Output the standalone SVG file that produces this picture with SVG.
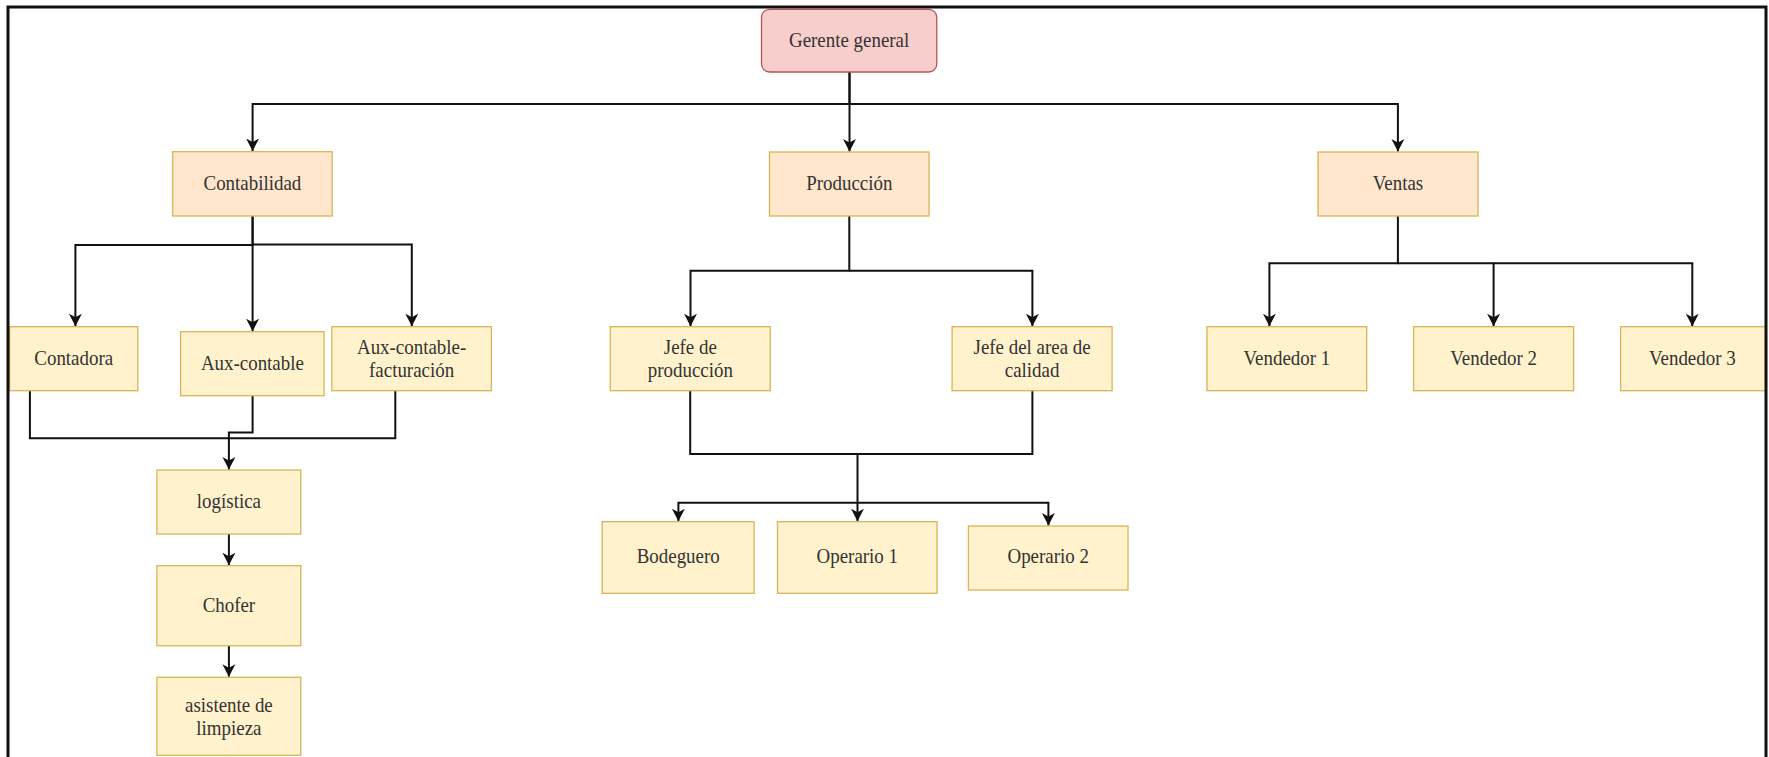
<svg xmlns="http://www.w3.org/2000/svg" width="1769" height="757" viewBox="0 0 1769 757">
<style>
.bg{fill:#ffffff}
.frame{fill:none;stroke:#111111;stroke-width:3}
.top{fill:#f8cecc;stroke:#b85450;stroke-width:1.3}
.dept{fill:#ffe6cc;stroke:#d6b656;stroke-width:1.3}
.box{fill:#fff2cc;stroke:#d6b656;stroke-width:1.3}
.t{font-family:"Liberation Serif","Times New Roman",serif;font-size:21.5px;fill:#333333;text-anchor:middle}
.c{fill:none;stroke:#111111;stroke-width:2}
.ca{fill:none;stroke:#111111;stroke-width:2;marker-end:url(#arr)}
</style>
<defs>
<marker id="arr" markerUnits="userSpaceOnUse" markerWidth="14" markerHeight="14" viewBox="0 0 14 14" refX="12.5" refY="7" orient="auto">
<path d="M0,0.5 L12.5,7 L0,13.5 L3.5,7 Z" fill="#111111"/>
</marker>
</defs>
<rect class="bg" x="0" y="0" width="1769" height="757"/>

<g id="connectors">
<path class="ca" d="M849.5,72 V104 H252.6 V151"/>
<path class="ca" d="M849.5,72 V151.5"/>
<path class="ca" d="M849.5,104 H1397.9 V151.5"/>
<path class="ca" d="M252.6,216 V245 H75.4 V326.2"/>
<path class="ca" d="M252.6,216 V331.2"/>
<path class="ca" d="M252.6,244.5 H411.8 V326.2"/>
<path class="c" d="M29.9,390.7 V438.3 H395.3 V390.7"/>
<path class="ca" d="M252.6,395.7 V432.5 H228.9 V469.5"/>
<path class="ca" d="M228.9,534 V565.2"/>
<path class="ca" d="M228.9,645.7 V676.8"/>
<path class="ca" d="M849.3,216 V270.7 H690.5 V326.2"/>
<path class="ca" d="M849.3,270.7 H1032.4 V326.2"/>
<path class="c" d="M690.2,390.7 V454 H1032.4 V390.7"/>
<path class="ca" d="M857.5,454 V521.2"/>
<path class="ca" d="M857.5,502.7 H678.4 V521.2"/>
<path class="ca" d="M857.5,502.7 H1048.4 V525.5"/>
<path class="ca" d="M1397.9,216 V263.3 H1269.4 V326.2"/>
<path class="ca" d="M1397.9,263.3 H1493.6 V326.2"/>
<path class="ca" d="M1493.6,263.3 H1692.3 V326.2"/>
</g>

<g id="gerente">
<rect class="top" x="761.5" y="9.3" width="175.3" height="62.7" rx="8"/>
<text class="t" transform="translate(849.1,46.7) scale(0.88,1)">Gerente general</text>
</g>
<g id="contabilidad">
<rect class="dept" x="172.6" y="151.7" width="159.6" height="64.3"/>
<text class="t" transform="translate(252.4,189.8) scale(0.88,1)">Contabilidad</text>
</g>
<g id="produccion">
<rect class="dept" x="769.5" y="152" width="159.6" height="64"/>
<text class="t" transform="translate(849.3,190) scale(0.88,1)">Producción</text>
</g>
<g id="ventas">
<rect class="dept" x="1318" y="152" width="160" height="64"/>
<text class="t" transform="translate(1398,190) scale(0.88,1)">Ventas</text>
</g>
<g id="contadora">
<rect class="box" x="9.6" y="326.7" width="128.2" height="64"/>
<text class="t" transform="translate(73.7,364.7) scale(0.88,1)">Contadora</text>
</g>
<g id="aux-contable">
<rect class="box" x="180.6" y="331.7" width="143.5" height="64"/>
<text class="t" transform="translate(252.4,369.7) scale(0.88,1)">Aux-contable</text>
</g>
<g id="aux-contable-facturacion">
<rect class="box" x="331.8" y="326.7" width="159.6" height="64"/>
<text class="t" transform="translate(411.6,0) scale(0.88,1)"><tspan x="0" y="354">Aux-contable-</tspan><tspan x="0" y="376.7">facturación</tspan></text>
</g>
<g id="logistica">
<rect class="box" x="156.9" y="470" width="143.9" height="64"/>
<text class="t" transform="translate(228.9,508) scale(0.88,1)">logística</text>
</g>
<g id="chofer">
<rect class="box" x="156.9" y="565.7" width="143.9" height="80"/>
<text class="t" transform="translate(228.9,611.7) scale(0.88,1)">Chofer</text>
</g>
<g id="asistente">
<rect class="box" x="156.9" y="677.3" width="143.9" height="78"/>
<text class="t" transform="translate(228.9,0) scale(0.88,1)"><tspan x="0" y="712">asistente de</tspan><tspan x="0" y="735.3">limpieza</tspan></text>
</g>
<g id="jefe-produccion">
<rect class="box" x="610.3" y="326.7" width="160" height="64"/>
<text class="t" transform="translate(690.3,0) scale(0.88,1)"><tspan x="0" y="354">Jefe de</tspan><tspan x="0" y="376.7">producción</tspan></text>
</g>
<g id="jefe-calidad">
<rect class="box" x="952.1" y="326.7" width="160" height="64"/>
<text class="t" transform="translate(1032.1,0) scale(0.88,1)"><tspan x="0" y="354">Jefe del area de</tspan><tspan x="0" y="376.7">calidad</tspan></text>
</g>
<g id="bodeguero">
<rect class="box" x="602.2" y="521.7" width="151.9" height="71.6"/>
<text class="t" transform="translate(678.2,562.7) scale(0.88,1)">Bodeguero</text>
</g>
<g id="operario1">
<rect class="box" x="777.5" y="521.7" width="159.5" height="71.6"/>
<text class="t" transform="translate(857.3,562.7) scale(0.88,1)">Operario 1</text>
</g>
<g id="operario2">
<rect class="box" x="968.4" y="526" width="159.6" height="64"/>
<text class="t" transform="translate(1048.2,562.7) scale(0.88,1)">Operario 2</text>
</g>
<g id="vendedor1">
<rect class="box" x="1207" y="326.7" width="159.7" height="64"/>
<text class="t" transform="translate(1286.9,364.7) scale(0.88,1)">Vendedor 1</text>
</g>
<g id="vendedor2">
<rect class="box" x="1413.6" y="326.7" width="160" height="64"/>
<text class="t" transform="translate(1493.6,364.7) scale(0.88,1)">Vendedor 2</text>
</g>
<g id="vendedor3">
<rect class="box" x="1620.6" y="326.7" width="145" height="64"/>
<text class="t" transform="translate(1692.3,364.7) scale(0.88,1)">Vendedor 3</text>
</g>

<rect class="frame" x="8" y="7" width="1758" height="770"/>
</svg>
